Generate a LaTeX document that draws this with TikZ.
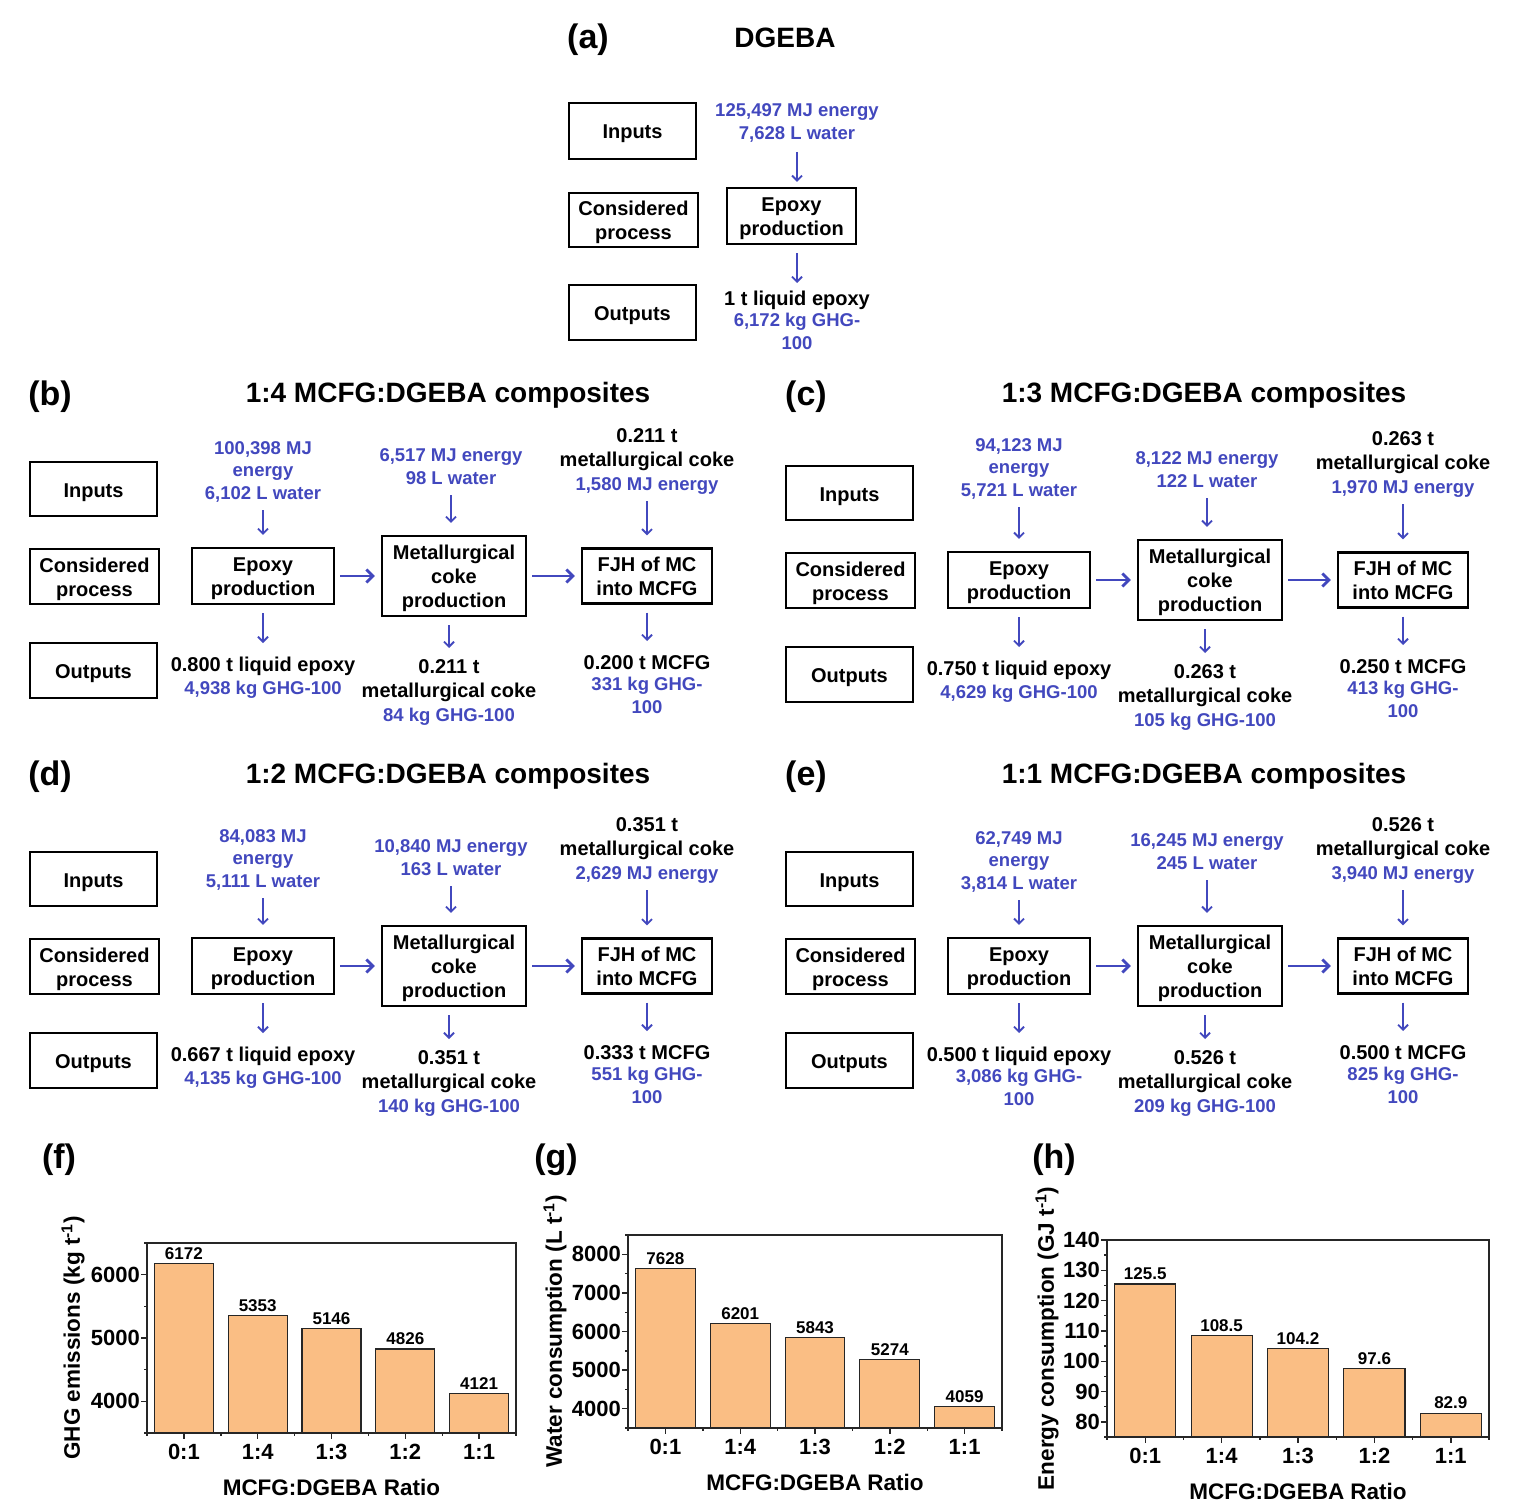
\documentclass[tikz,border=0pt]{standalone}
\usepackage{fontspec}
\setmainfont{Liberation Sans}
\usetikzlibrary{arrows.meta}
\definecolor{tblue}{RGB}{66,72,190}
\definecolor{barfill}{RGB}{250,190,132}
\newcommand{\fsz}[2]{\fontsize{#1}{#2}\selectfont}
\tikzset{
  lbox/.style={draw, line width=2.4pt, align=center, inner sep=0pt, font=\bfseries\fsz{20}{24},
    execute at begin node={\rule{0pt}{21pt}}, execute at end node={\rule[-5pt]{0pt}{5pt}}},
  lboxm/.style={lbox, execute at begin node={\rule{0pt}{44.5pt}}},
  lboxmm/.style={lbox, execute at begin node={\rule{0pt}{68.5pt}}},
  bluetxt/.style={text=tblue, align=center, inner sep=0pt, font=\bfseries\fsz{18.5}{22.5},
    execute at begin node=\strut, execute at end node=\strut},
  blktxt/.style={text=black, align=center, inner sep=0pt, font=\bfseries\fsz{20}{24.5},
    execute at begin node=\strut, execute at end node=\strut},
  darr/.style={draw=tblue, line width=1.8pt, -{Straight Barb[length=5pt,width=10pt]}, shorten <=4pt, shorten >=12pt},
  uarr/.style={draw=tblue, line width=1.8pt, -{Straight Barb[length=5pt,width=10pt]}, shorten <=8pt, shorten >=11pt},
  harr/.style={draw=tblue, line width=2.8pt, -{Straight Barb[length=6.5pt,width=13pt]}, shorten <=5pt, shorten >=6pt},
  plab/.style={font=\bfseries\fsz{34}{40}, inner sep=0pt},
  ptitle/.style={font=\bfseries\fsz{28}{32}, inner sep=0pt},
  barline/.style={draw=black!85, line width=1.1pt},
  axisline/.style={draw=black!85, line width=1.4pt},
  frameline/.style={draw=black!85, line width=1.5pt},
  vallab/.style={font=\bfseries\fsz{17}{20}, inner sep=0pt},
  xtick/.style={font=\bfseries\fsz{22}{26}, inner sep=0pt},
  ytick/.style={font=\bfseries\fsz{22}{26}, inner sep=0pt},
  axtitle/.style={font=\bfseries\fsz{22.5}{26}, inner sep=0pt}
}
\newcommand{\procboxes}[3]{%
\begin{scope}[shift={(#2,#3)}]
  \node[lbox, minimum width=127pt, minimum height=54pt] (#1-inp) at (93.5,489) {Inputs};
  \node[lboxm, minimum width=129pt, minimum height=55pt] (#1-cp) at (94.5,576.5) {Considered\\process};
  \node[lbox, minimum width=127pt, minimum height=55pt] (#1-out) at (93.5,670.5) {Outputs};
  \node[lboxm, minimum width=142pt, minimum height=56pt] (#1-ep) at (263,576) {Epoxy\\production};
  \node[lboxmm, minimum width=144pt, minimum height=80pt] (#1-mc) at (454,576) {Metallurgical\\coke\\production};
  \node[lboxm, minimum width=130pt, minimum height=55pt] (#1-fj) at (647,576) {FJH of MC\\into MCFG};
  \draw[harr] (#1-ep) -- (#1-mc);
  \draw[harr] (#1-mc) -- (#1-fj);
\end{scope}}
\newcommand{\procarrows}[1]{%
  \draw[darr] (#1-i1) -- (#1-i1 |- #1-ep.north);
  \draw[darr] (#1-i2) -- (#1-i2 |- #1-mc.north);
  \draw[darr] (#1-i3) -- (#1-i3 |- #1-fj.north);
  \draw[uarr] (#1-ep.south -| #1-o1k) -- (#1-o1k);
  \draw[uarr] (#1-mc.south -| #1-o2k) -- (#1-o2k);
  \draw[uarr] (#1-fj.south -| #1-o3k) -- (#1-o3k);}
% chart: #1 prefix, #2 values, #3 major ticks, #4 minor ticks, #5 y title, #6 y-title offset
\newcommand{\drawchart}[6]{%
  \pgfmathsetmacro\cw{(\cR-\cL)/5}
  \foreach \v/\c [count=\i] in {#2} {
    \pgfmathsetmacro\xc{\cL+(\i-0.5)*\cw}
    \pgfmathsetmacro\yy{\cB-(\v-\cmin)/\crange*(\cB-\cT)}
    \pgfmathsetmacro\xa{\xc-0.4*\cw}
    \pgfmathsetmacro\xb{\xc+0.4*\cw}
    \fill[barfill] (\xa,\cB) rectangle (\xb,\yy);
    \draw[barline] (\xa,\cB) -- (\xa,\yy) -- (\xb,\yy) -- (\xb,\cB);
    \node[vallab, anchor=south] (#1-v\i) at (\xc,\yy-4) {\v};
    \draw[axisline] (\xc,\cB) -- ++(0,6);
    \node[xtick] (#1-x\i) at (\xc,\cB+19) {\c};
  }
  \foreach \i in {0,...,5} { \draw[axisline] (\cL+\i*\cw,\cB) -- ++(0,3); }
  \foreach \m [count=\j] in {#3} {
    \pgfmathsetmacro\yy{\cB-(\m-\cmin)/\crange*(\cB-\cT)}
    \draw[axisline] (\cL,\yy) -- ++(-6,0);
    \node[ytick, anchor=east] (#1-y\j) at (\cL-7,\yy) {\m};
  }
  \foreach \m in {#4} {
    \pgfmathsetmacro\yy{\cB-(\m-\cmin)/\crange*(\cB-\cT)}
    \draw[axisline] (\cL,\yy) -- ++(-3.5,0);
  }
  \draw[frameline] (\cL,\cT) rectangle (\cR,\cB);
  \node[axtitle, rotate=90] (#1-yt) at (\cL-#6,{(\cT+\cB)/2}) {#5};
  \node[axtitle] (#1-xt) at ({(\cL+\cR)/2},\cB+54) {MCFG:DGEBA Ratio};
}
\begin{document}
\begin{tikzpicture}[x=1pt,y=-1pt]
\useasboundingbox (0,0) rectangle (1518,1506);
\fill[white] (0,0) rectangle (1518,1506);

% ---------------- (a)
\node[plab] (a-lab) at (588,40) {(a)};
\node[ptitle] (a-title) at (785,38) {DGEBA};
\node[lbox, minimum width=127pt, minimum height=56pt] (a-inp) at (632.5,131) {Inputs};
\node[lboxm, minimum width=129pt, minimum height=54pt] (a-cp) at (633.5,220) {Considered\\process};
\node[lbox, minimum width=127pt, minimum height=55pt] (a-out) at (632.5,312.5) {Outputs};
\node[lboxm, minimum width=129pt, minimum height=56pt] (a-ep) at (791.5,216) {Epoxy\\production};
\node[bluetxt, anchor=south] (a-i1) at (797,146) {125,497 MJ energy\\7,628 L water};
\node[blktxt, anchor=north] (a-o1k) at (797,288) {1 t liquid epoxy};
\node[bluetxt, anchor=north] (a-o1) at (a-o1k.south) {6,172 kg GHG-\\100};
\draw[darr, shorten <=6pt, shorten >=5pt] (a-i1) -- (a-i1 |- a-ep.north);
\draw[uarr, shorten >=5pt] (a-ep.south -| a-o1k) -- (a-o1k);

% ---------------- (b)
\node[plab] (b-lab) at (50,397) {(b)};
\node[ptitle] (b-title) at (448,395) {1:4 MCFG:DGEBA composites};
\procboxes{b}{0}{0}
\node[bluetxt, anchor=south] (b-i1) at (263,506) {100,398 MJ\\energy\\6,102 L water};
\node[bluetxt, anchor=south] (b-i2) at (451,491) {6,517 MJ energy\\98 L water};
\node[bluetxt, anchor=south] (b-i3) at (647,497) {1,580 MJ energy};
\node[blktxt, anchor=south] (b-i3k) at (b-i3.north) {0.211 t\\metallurgical coke};
\node[blktxt, anchor=north] (b-o1k) at (263,654) {0.800 t liquid epoxy};
\node[bluetxt, anchor=north] (b-o1) at (b-o1k.south) {4,938 kg GHG-100};
\node[blktxt, anchor=north] (b-o2k) at (449,659) {0.211 t\\metallurgical coke};
\node[bluetxt, anchor=north] (b-o2) at (b-o2k.south) {84 kg GHG-100};
\node[blktxt, anchor=north] (b-o3k) at (647,652) {0.200 t MCFG};
\node[bluetxt, anchor=north] (b-o3) at (b-o3k.south) {331 kg GHG-\\100};
\procarrows{b}

% ---------------- (c)
\node[plab] (c-lab) at (806,397) {(c)};
\node[ptitle] (c-title) at (1204,395) {1:3 MCFG:DGEBA composites};
\procboxes{c}{756}{4}
\node[bluetxt, anchor=south] (c-i1) at (1019,503) {94,123 MJ\\energy\\5,721 L water};
\node[bluetxt, anchor=south] (c-i2) at (1207,494) {8,122 MJ energy\\122 L water};
\node[bluetxt, anchor=south] (c-i3) at (1403,500) {1,970 MJ energy};
\node[blktxt, anchor=south] (c-i3k) at (c-i3.north) {0.263 t\\metallurgical coke};
\node[blktxt, anchor=north] (c-o1k) at (1019,658) {0.750 t liquid epoxy};
\node[bluetxt, anchor=north] (c-o1) at (c-o1k.south) {4,629 kg GHG-100};
\node[blktxt, anchor=north] (c-o2k) at (1205,664) {0.263 t\\metallurgical coke};
\node[bluetxt, anchor=north] (c-o2) at (c-o2k.south) {105 kg GHG-100};
\node[blktxt, anchor=north] (c-o3k) at (1403,656) {0.250 t MCFG};
\node[bluetxt, anchor=north] (c-o3) at (c-o3k.south) {413 kg GHG-\\100};
\procarrows{c}

% ---------------- (d)
\node[plab] (d-lab) at (50,777) {(d)};
\node[ptitle] (d-title) at (448,776) {1:2 MCFG:DGEBA composites};
\procboxes{d}{0}{390}
\node[bluetxt, anchor=south] (d-i1) at (263,894) {84,083 MJ\\energy\\5,111 L water};
\node[bluetxt, anchor=south] (d-i2) at (451,882) {10,840 MJ energy\\163 L water};
\node[bluetxt, anchor=south] (d-i3) at (647,886) {2,629 MJ energy};
\node[blktxt, anchor=south] (d-i3k) at (d-i3.north) {0.351 t\\metallurgical coke};
\node[blktxt, anchor=north] (d-o1k) at (263,1044) {0.667 t liquid epoxy};
\node[bluetxt, anchor=north] (d-o1) at (d-o1k.south) {4,135 kg GHG-100};
\node[blktxt, anchor=north] (d-o2k) at (449,1050) {0.351 t\\metallurgical coke};
\node[bluetxt, anchor=north] (d-o2) at (d-o2k.south) {140 kg GHG-100};
\node[blktxt, anchor=north] (d-o3k) at (647,1042) {0.333 t MCFG};
\node[bluetxt, anchor=north] (d-o3) at (d-o3k.south) {551 kg GHG-\\100};
\procarrows{d}

% ---------------- (e)
\node[plab] (e-lab) at (806,777) {(e)};
\node[ptitle] (e-title) at (1204,776) {1:1 MCFG:DGEBA composites};
\procboxes{e}{756}{390}
\node[bluetxt, anchor=south] (e-i1) at (1019,896) {62,749 MJ\\energy\\3,814 L water};
\node[bluetxt, anchor=south] (e-i2) at (1207,876) {16,245 MJ energy\\245 L water};
\node[bluetxt, anchor=south] (e-i3) at (1403,886) {3,940 MJ energy};
\node[blktxt, anchor=south] (e-i3k) at (e-i3.north) {0.526 t\\metallurgical coke};
\node[blktxt, anchor=north] (e-o1k) at (1019,1044) {0.500 t liquid epoxy};
\node[bluetxt, anchor=north] (e-o1) at (e-o1k.south) {3,086 kg GHG-\\100};
\node[blktxt, anchor=north] (e-o2k) at (1205,1050) {0.526 t\\metallurgical coke};
\node[bluetxt, anchor=north] (e-o2) at (e-o2k.south) {209 kg GHG-100};
\node[blktxt, anchor=north] (e-o3k) at (1403,1042) {0.500 t MCFG};
\node[bluetxt, anchor=north] (e-o3) at (e-o3k.south) {825 kg GHG-\\100};
\procarrows{e}

% ---------------- (f)
\node[plab] (f-lab) at (59,1160) {(f)};
\def\cL{147}\def\cR{516}\def\cT{1243}\def\cB{1433}\def\cmin{3500}\def\crange{3000}
\drawchart{f}{6172/0:1,5353/1:4,5146/1:3,4826/1:2,4121/1:1}{4000,5000,6000}{3500,4500,5500,6500}{GHG emissions (kg t\textsuperscript{-1})}{74}

% ---------------- (g)
\node[plab] (g-lab) at (556,1160) {(g)};
\def\cL{628}\def\cR{1002}\def\cT{1235}\def\cB{1428}\def\cmin{3500}\def\crange{5000}
\drawchart{g}{7628/0:1,6201/1:4,5843/1:3,5274/1:2,4059/1:1}{4000,5000,6000,7000,8000}{3500,4500,5500,6500,7500,8500}{Water consumption (L t\textsuperscript{-1})}{73}

% ---------------- (h)
\node[plab] (h-lab) at (1054,1160) {(h)};
\def\cL{1107}\def\cR{1489}\def\cT{1240}\def\cB{1437}\def\cmin{75}\def\crange{65}
\drawchart{h}{125.5/0:1,108.5/1:4,104.2/1:3,97.6/1:2,82.9/1:1}{80,90,100,110,120,130,140}{75,85,95,105,115,125,135}{Energy consumption (GJ t\textsuperscript{-1})}{60}

\end{tikzpicture}
\end{document}
